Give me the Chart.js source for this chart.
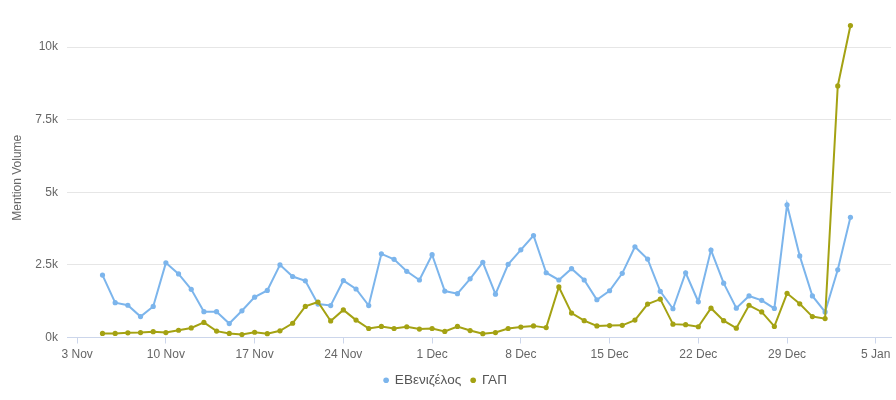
<!DOCTYPE html>
<html lang="el">
<head>
    <meta charset="UTF-8">
    <title>Mention Volume</title>
    <script src="https://cdn.jsdelivr.net/npm/chart.js"></script>
    <style>
        body { margin: 0; background: #fff; }
        #wrap { position: relative; width: 896px; height: 400px; }
    </style>
</head>
<body>
    <div id="wrap"><canvas id="chart"></canvas></div>

    <script>
        // days, Nov 5 -> Jan 3
        const dates = [
            '2014-11-05','2014-11-06','2014-11-07','2014-11-08','2014-11-09','2014-11-10','2014-11-11','2014-11-12',
            '2014-11-13','2014-11-14','2014-11-15','2014-11-16','2014-11-17','2014-11-18','2014-11-19','2014-11-20',
            '2014-11-21','2014-11-22','2014-11-23','2014-11-24','2014-11-25','2014-11-26','2014-11-27','2014-11-28',
            '2014-11-29','2014-11-30','2014-12-01','2014-12-02','2014-12-03','2014-12-04','2014-12-05','2014-12-06',
            '2014-12-07','2014-12-08','2014-12-09','2014-12-10','2014-12-11','2014-12-12','2014-12-13','2014-12-14',
            '2014-12-15','2014-12-16','2014-12-17','2014-12-18','2014-12-19','2014-12-20','2014-12-21','2014-12-22',
            '2014-12-23','2014-12-24','2014-12-25','2014-12-26','2014-12-27','2014-12-28','2014-12-29','2014-12-30',
            '2014-12-31','2015-01-01','2015-01-02','2015-01-03'
        ];

        const venizelos = [
            2150, 1200, 1110, 720, 1070, 2570, 2190, 1660, 890, 890, 480, 920, 1390, 1620, 2500, 2100,
            1950, 1150, 1100, 1960, 1670, 1100, 2880, 2690, 2280, 1980, 2850, 1600, 1510, 2020, 2590, 1490,
            2520, 3020, 3510, 2230, 1980, 2370, 1980, 1300, 1610, 2210, 3125, 2700, 1590, 990, 2230, 1230,
            3010, 1870, 1010, 1430, 1280, 1000, 4570, 2810, 1430, 880, 2330, 4140
        ];

        const gap = [
            140, 140, 160, 170, 200, 170, 250, 330, 520, 220, 140, 100, 180, 130, 230, 490,
            1070, 1220, 570, 950, 600, 310, 380, 310, 370, 290, 310, 210, 380, 240, 130, 170,
            310, 360, 400, 340, 1740, 840, 580, 400, 410, 420, 600, 1150, 1320, 460, 440, 370,
            1010, 580, 320, 1110, 880, 380, 1520, 1160, 720, 650, 8660, 10740
        ];

        // x axis: weekly ticks starting 3 Nov
        const axisStart = '2014-11-03';
        const tickLabels = ['3 Nov', '10 Nov', '17 Nov', '24 Nov', '1 Dec', '8 Dec', '15 Dec', '22 Dec', '29 Dec', '5 Jan'];
        const yTicks = [0, 2500, 5000, 7500, 10000];

        const DAY = 86400000;
        function dayOffset(d) {
            return Math.round((Date.parse(d) - Date.parse(axisStart)) / DAY);
        }
        const toPoints = vals => vals.map((v, i) => ({ x: dayOffset(dates[i]), y: v }));

        const BLUE = '#7cb5ec';
        const OLIVE = '#a4a213';
        const FONT = '"Liberation Sans", Arial, sans-serif';

        new Chart(document.getElementById('chart'), {
            type: 'line',
            data: {
                datasets: [
                    {
                        label: 'ΕΒενιζέλος',
                        data: toPoints(venizelos),
                        borderColor: BLUE,
                        backgroundColor: BLUE,
                        pointBackgroundColor: BLUE,
                        pointBorderWidth: 0,
                        pointRadius: 2.6,
                        borderWidth: 2,
                        tension: 0,
                        order: 1
                    },
                    {
                        label: 'ΓΑΠ',
                        data: toPoints(gap),
                        borderColor: OLIVE,
                        backgroundColor: OLIVE,
                        pointBackgroundColor: OLIVE,
                        pointBorderWidth: 0,
                        pointRadius: 2.6,
                        borderWidth: 2,
                        tension: 0,
                        order: 0 // drawn on top
                    }
                ]
            },
            options: {
                responsive: true,
                maintainAspectRatio: false,
                animation: false,
                layout: { padding: { top: 18, right: 5, bottom: 3, left: 0 } },
                plugins: {
                    tooltip: { enabled: false },
                    legend: {
                        position: 'bottom',
                        labels: {
                            usePointStyle: true,
                            pointStyle: 'circle',
                            boxWidth: 4,
                            boxHeight: 4,
                            padding: 10,
                            color: '#555555',
                            font: { family: FONT, size: 13.5 },
                            sort: (a, b) => a.datasetIndex - b.datasetIndex
                        }
                    }
                },
                scales: {
                    x: {
                        type: 'linear',
                        min: -0.8,
                        max: 64.2,
                        afterBuildTicks: s => { s.ticks = tickLabels.map((t, i) => ({ value: i * 7 })); },
                        afterFit: s => { s.height = 26; },
                        ticks: {
                            autoSkip: false,
                            maxRotation: 0,
                            padding: 4,
                            color: '#666666',
                            font: { family: FONT, size: 12 },
                            callback: (v) => tickLabels[Math.round(v / 7)]
                        },
                        grid: {
                            drawOnChartArea: false,
                            drawTicks: true,
                            tickLength: 6,
                            color: '#ccd6eb'
                        },
                        border: { color: '#ccd6eb', width: 1 }
                    },
                    y: {
                        min: 0,
                        max: 11000,
                        afterBuildTicks: s => { s.ticks = yTicks.map(v => ({ value: v })); },
                        afterFit: s => { s.width = 67; },
                        ticks: {
                            padding: 9,
                            color: '#666666',
                            font: { family: FONT, size: 12 },
                            callback: v => (v / 1000) + 'k'
                        },
                        grid: {
                            color: '#e6e6e6',
                            drawTicks: false
                        },
                        border: { display: false },
                        title: {
                            display: true,
                            text: 'Mention Volume',
                            color: '#666666',
                            font: { family: FONT, size: 12 },
                            padding: { top: 10, bottom: 0 }
                        }
                    }
                }
            }
        });
    </script>
</body>
</html>
